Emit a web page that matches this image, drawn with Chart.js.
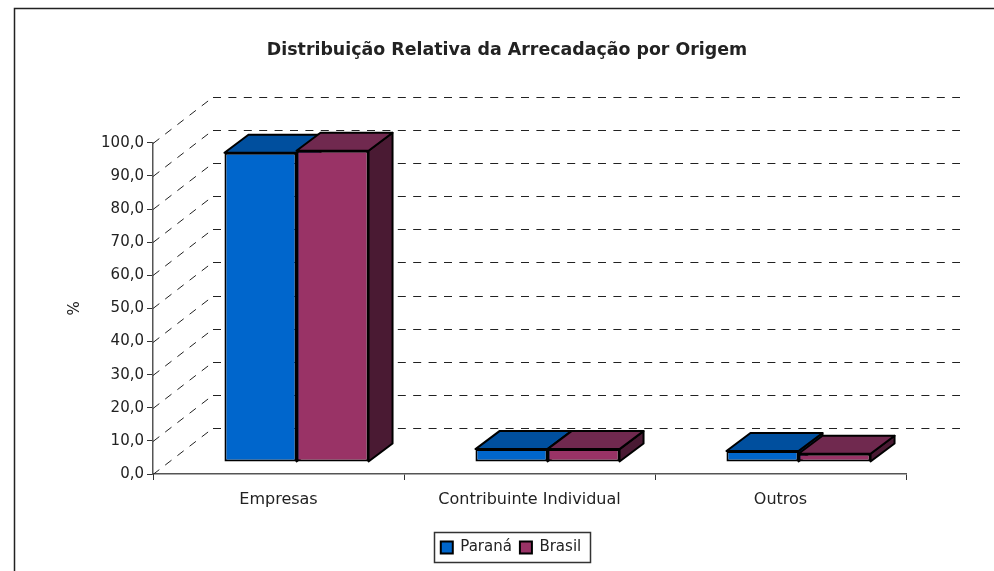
<!DOCTYPE html>
<html>
<head>
<meta charset="utf-8">
<title>Distribuição Relativa da Arrecadação por Origem</title>
<script src="https://cdn.jsdelivr.net/npm/chart.js@4"></script>
<style>
    html, body { margin: 0; padding: 0; background: #fff; }
    #wrap { width: 994px; height: 571px; }
</style>
</head>
<body>
<div id="wrap"><canvas id="grafico" width="994" height="571"></canvas></div>
<script>
// dados
const categorias = ['Empresas', 'Contribuinte Individual', 'Outros'];
const valoresParana = [93.4, 3.9, 3.3];
const valoresBrasil = [94.0, 3.9, 2.5];
const rotulosY = ['0,0', '10,0', '20,0', '30,0', '40,0', '50,0', '60,0', '70,0', '80,0', '90,0', '100,0'];

const fonte = '"DejaVu Sans", sans-serif';
const corTexto = '#222';

// profundidade do "3D" em pixels
const parede = { dx: 60, dy: 46 };
const frente = { dx: 18, dy: 12 };
const barra3d = { dx: 24, dy: 18 };

const cores = [
    { frente: '#0066CC', topo: '#004F9E', lado: '#00397A' },
    { frente: '#993366', topo: '#70294F', lado: '#4A1A33' }
];

function face(ctx, pontos, cor) {
    ctx.beginPath();
    pontos.forEach((p, i) => i ? ctx.lineTo(p[0], p[1]) : ctx.moveTo(p[0], p[1]));
    ctx.closePath();
    ctx.fillStyle = cor;
    ctx.fill();
    ctx.stroke();
}

const plugin3d = {
    id: 'plugin3d',
    afterLayout(chart) {
        // título e legenda não ficam centrados no canvas
        chart.titleBlock.left = 20;
        chart.titleBlock.right = 994;
        const lg = chart.legend;
        const w = lg.right - lg.left;
        lg.left = 511 - w / 2;
        lg.right = 511 + w / 2;
    },
    beforeDraw(chart) {
        const ctx = chart.ctx;
        ctx.save();
        // moldura
        ctx.strokeStyle = '#222';
        ctx.lineWidth = 1.5;
        ctx.beginPath();
        ctx.moveTo(14.5, 571);
        ctx.lineTo(14.5, 8.5);
        ctx.lineTo(994, 8.5);
        ctx.stroke();
        // caixa da legenda
        ctx.strokeStyle = '#333';
        ctx.strokeRect(434.5, 532.5, 156, 30);
        ctx.restore();
    },
    beforeDatasetsDraw(chart) {
        const ctx = chart.ctx;
        const y = chart.scales.y;
        const area = chart.chartArea;

        // parede do fundo: linhas tracejadas a partir da escala
        ctx.save();
        ctx.strokeStyle = '#222';
        ctx.lineWidth = 1;
        ctx.setLineDash([8, 7.4]);
        y.ticks.forEach((t, i) => {
            const py = Math.round(y.getPixelForTick(i)) + 0.5;
            ctx.beginPath();
            ctx.moveTo(area.left, py);
            ctx.lineTo(area.left + parede.dx - 3, py - parede.dy + 2);
            ctx.stroke();
            ctx.beginPath();
            ctx.moveTo(area.left + parede.dx, py - parede.dy);
            ctx.lineTo(area.right + parede.dx - 6, py - parede.dy);
            ctx.stroke();
        });
        ctx.restore();

        // faces laterais e de topo, antes das frentes
        ctx.save();
        ctx.strokeStyle = '#000';
        ctx.lineWidth = 2;
        ctx.lineJoin = 'round';
        ctx.translate(frente.dx, -frente.dy);
        const d = barra3d;
        [0, 1].forEach(ds => {
            chart.getDatasetMeta(ds).data.forEach(b => {
                const dir = b.x + b.width / 2;
                const esq = b.x - b.width / 2;
                face(ctx, [[dir, b.y], [dir + d.dx, b.y - d.dy], [dir + d.dx, b.base - d.dy], [dir, b.base]], cores[ds].lado);
                face(ctx, [[esq, b.y], [esq + d.dx, b.y - d.dy], [dir + d.dx, b.y - d.dy], [dir, b.y]], cores[ds].topo);
            });
        });
        ctx.restore();

        // as frentes são as barras nativas, deslocadas
        ctx.save();
        ctx.translate(frente.dx, -frente.dy);
    },
    afterDatasetsDraw(chart) {
        chart.ctx.restore();
    }
};

const estiloBarra = { borderColor: '#000', borderWidth: 2, borderSkipped: false, categoryPercentage: 0.574, barPercentage: 1 };

new Chart(document.getElementById('grafico'), {
    type: 'bar',
    data: {
        labels: categorias,
        datasets: [
            { label: 'Paraná', data: valoresParana, backgroundColor: cores[0].frente, ...estiloBarra },
            { label: 'Brasil', data: valoresBrasil, backgroundColor: cores[1].frente, ...estiloBarra }
        ]
    },
    options: {
        responsive: false,
        animation: false,
        layout: { padding: { left: 66, right: 88, top: 0, bottom: 6 } },
        scales: {
            x: {
                grid: { drawOnChartArea: false, color: '#333', tickLength: 6, lineWidth: 1 },
                border: { color: '#555', width: 1.5 },
                ticks: { color: corTexto, font: { family: fonte, size: 16 }, padding: 10, maxRotation: 0 },
                afterFit(s) { s.height = 58; }
            },
            y: {
                min: 0,
                max: 100,
                grid: { drawOnChartArea: false, color: '#333', tickLength: 6, lineWidth: 1 },
                border: { color: '#555', width: 1.5 },
                ticks: {
                    stepSize: 10,
                    color: corTexto,
                    font: { family: fonte, size: 15 },
                    padding: 3,
                    callback: (v, i) => rotulosY[i]
                },
                title: { display: true, text: '%', color: corTexto, font: { family: fonte, size: 15 }, padding: 0 },
                afterFit(s) { s.width = 87; }
            }
        },
        plugins: {
            title: {
                display: true,
                text: 'Distribuição Relativa da Arrecadação por Origem',
                color: corTexto,
                font: { family: fonte, size: 17.4, weight: 'bold' },
                padding: { top: 40, bottom: 82 }
            },
            legend: {
                position: 'bottom',
                labels: { color: corTexto, font: { family: fonte, size: 15 }, boxWidth: 12, boxHeight: 12, padding: 8 }
            },
            tooltip: { enabled: false }
        }
    },
    plugins: [plugin3d]
});
</script>
</body>
</html>
